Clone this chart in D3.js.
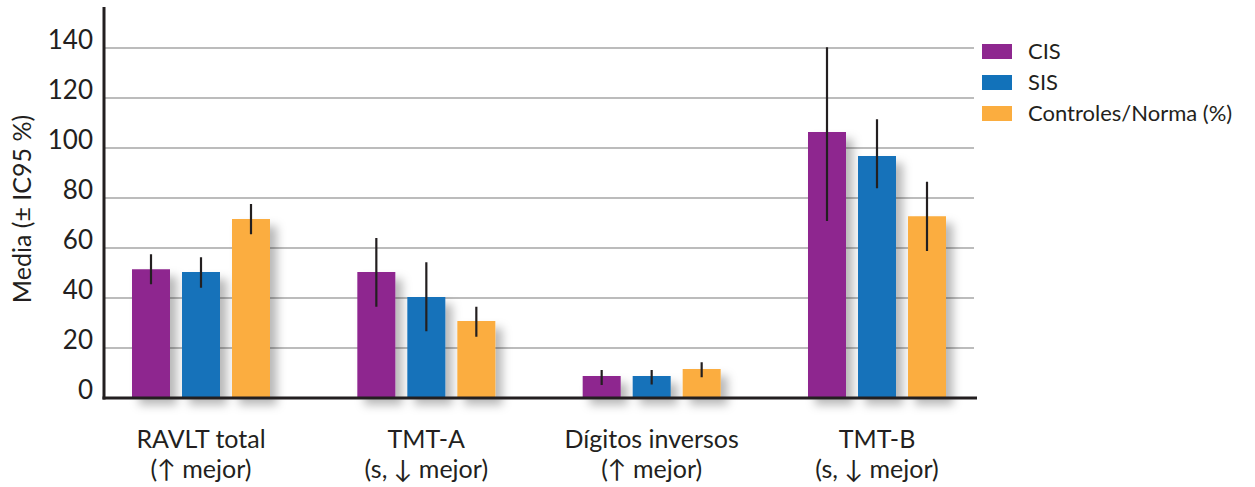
<!DOCTYPE html>
<html>
<head>
<meta charset="utf-8">
<script src="https://cdn.jsdelivr.net/npm/d3@7"></script>
<style>
  html, body { margin: 0; padding: 0; background: #fff; }
  svg { display: block; font-family: Lato, "Open Sans", sans-serif; }
</style>
</head>
<body>
<svg id="chart" width="1255" height="487"></svg>
<script>
// ---- data ----
const categories = ["RAVLT total", "TMT-A", "Dígitos inversos", "TMT-B"];
const categorySub = ["(↑ mejor)", "(s, ↓ mejor)", "(↑ mejor)", "(s, ↓ mejor)"];
const series = ["CIS", "SIS", "Controles/Norma (%)"];
const cisMean = [51.5, 50.4, 8.8, 106.4];
const cisLow  = [45.5, 36.5, 5.2, 70.8];
const cisHigh = [57.5, 64.0, 11.2, 140.3];
const sisMean = [50.4, 40.4, 8.8, 96.8];
const sisLow  = [44.1, 26.7, 5.4, 83.9];
const sisHigh = [56.3, 54.3, 11.2, 111.5];
const ctlMean = [71.6, 30.8, 11.6, 72.7];
const ctlLow  = [65.5, 24.5, 8.3, 58.8];
const ctlHigh = [77.6, 36.5, 14.3, 86.5];
const yTicks = [0, 20, 40, 60, 80, 100, 120, 140];
const colors = ["#8E278F", "#1272BA", "#FBAD3F"];

const means = [cisMean, sisMean, ctlMean];
const lows = [cisLow, sisLow, ctlLow];
const highs = [cisHigh, sisHigh, ctlHigh];

const svg = d3.select("#chart");

// shadow filter
const defs = svg.append("defs");
const f = defs.append("filter").attr("id", "shadow")
  .attr("x", "-30%").attr("y", "-10%").attr("width", "170%").attr("height", "130%");
f.append("feDropShadow").attr("dx", 7).attr("dy", 7).attr("stdDeviation", 5)
  .attr("flood-color", "#000").attr("flood-opacity", 0.28);

const axisX = 104, axisRight = 977;
const y = d3.scaleLinear().domain([0, 140]).range([398, 48]);
const x = d3.scalePoint().domain(categories).range([201, 877]);
const xs = d3.scaleBand().domain(series).range([-75, 75]).paddingInner(0.24).paddingOuter(0.12);

// gridlines
svg.append("g").selectAll("line").data(yTicks.filter(d => d > 0)).join("line")
  .attr("x1", axisX).attr("x2", axisRight - 3)
  .attr("y1", d => y(d)).attr("y2", d => y(d))
  .attr("stroke", "#a6a6a6").attr("stroke-width", 1.6);

// y tick labels
svg.append("g").selectAll("text").data(yTicks).join("text")
  .attr("x", 93).attr("y", d => y(d) + 1)
  .attr("text-anchor", "end")
  .attr("font-size", 26).attr("fill", "#231f20")
  .text(d => d);

// bars
const barData = [];
categories.forEach((c, i) => {
  series.forEach((s, j) => {
    barData.push({ c, s, j, v: means[j][i], lo: lows[j][i], hi: highs[j][i] });
  });
});

svg.append("g").attr("filter", "url(#shadow)").selectAll("rect").data(barData).join("rect")
  .attr("x", d => x(d.c) + xs(d.s))
  .attr("width", xs.bandwidth())
  .attr("y", d => y(d.v))
  .attr("height", d => y(0) - y(d.v))
  .attr("fill", d => colors[d.j]);

// error bars
svg.append("g").selectAll("line").data(barData).join("line")
  .attr("x1", d => x(d.c) + xs(d.s) + xs.bandwidth() / 2)
  .attr("x2", d => x(d.c) + xs(d.s) + xs.bandwidth() / 2)
  .attr("y1", d => y(d.lo)).attr("y2", d => y(d.hi))
  .attr("stroke", "#231f20").attr("stroke-width", 2.2);

// axes lines
svg.append("line").attr("x1", axisX - 1.5).attr("x2", axisRight)
  .attr("y1", y(0)).attr("y2", y(0))
  .attr("stroke", "#231f20").attr("stroke-width", 3);
svg.append("line").attr("x1", axisX).attr("x2", axisX)
  .attr("y1", 7).attr("y2", y(0) + 1.5)
  .attr("stroke", "#231f20").attr("stroke-width", 3);

// x labels
const xl = svg.append("g").selectAll("text").data(categories).join("text")
  .attr("text-anchor", "middle").attr("font-size", 25).attr("fill", "#231f20");
xl.append("tspan").attr("x", d => x(d)).attr("y", 448).text(d => d);
xl.append("tspan").attr("x", d => x(d)).attr("y", 478).text((d, i) => categorySub[i]);

// y axis title
svg.append("text")
  .attr("transform", "translate(31,209) rotate(-90)")
  .attr("text-anchor", "middle").attr("font-size", 25).attr("fill", "#231f20")
  .text("Media (± IC95 %)");

// legend
const lg = svg.append("g").selectAll("g").data(series).join("g")
  .attr("transform", (d, i) => `translate(982,${44 + i * 31})`);
lg.append("rect").attr("width", 30).attr("height", 15).attr("fill", (d, i) => colors[i]);
lg.append("text").attr("x", 46).attr("y", 15).attr("font-size", 22).attr("fill", "#231f20").text(d => d);
</script>
</body>
</html>
